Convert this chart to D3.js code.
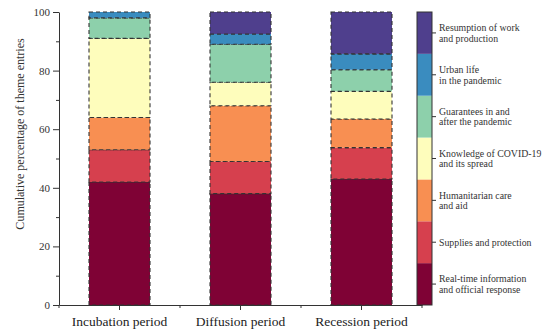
<!DOCTYPE html>
<html><head><meta charset="utf-8">
<script src="https://cdn.jsdelivr.net/npm/d3@7"></script>
<style>body{margin:0;background:#fff}svg{display:block}svg text{font-family:"Liberation Serif","Times New Roman",Times,"DejaVu Serif",serif}</style>
</head><body>
<svg id="c" width="550" height="336"></svg>
<script>
const periods = ["Incubation period", "Diffusion period", "Recession period"];
const themes = ["Real-time information and official response", "Supplies and protection", "Humanitarian care and aid",
  "Knowledge of COVID-19 and its spread", "Guarantees in and after the pandemic", "Urban life in the pandemic", "Resumption of work and production"];
const themeLines = [["Real-time information", "and official response"], ["Supplies and protection"], ["Humanitarian  care", "and aid"],
  ["Knowledge of COVID-19", "and its spread"], ["Guarantees in and", "after the pandemic"], ["Urban life", "in the  pandemic"], ["Resumption of work", "and production"]];
const colors = ["#7f0235", "#d6404e", "#f88f52", "#fefdbc", "#8dd0ab", "#3a8cbf", "#4f3f8d"];
// percentage of each theme per period (order = themes)
const incubation = [42, 11, 11, 27, 7, 2, 0];
const diffusion = [38, 11, 19, 8, 13, 3.5, 7.5];
const recession = [43, 10.7, 9.8, 9.4, 7.4, 5.4, 14.3];
const yTicks = [0, 20, 40, 60, 80, 100];

const seriesVals = [incubation, diffusion, recession];
const rows = periods.map((p, i) => { const o = {period: p}; themes.forEach((t, j) => o[t] = seriesVals[i][j]); return o; });
const stack = d3.stack().keys(themes)(rows);

const svg = d3.select("#c");
const x0 = 59, x1 = 422, yTop = 12, yBot = 305;
const x = d3.scaleBand().domain(periods).range([x0, x1]).paddingInner(0).paddingOuter(0);
const y = d3.scaleLinear().domain([0, 100]).range([yBot, yTop]);
const bw = 61;

const g = svg.append("g");
stack.forEach((layer, k) => {
  g.selectAll(null).data(layer).enter().append("rect")
    .attr("x", d => x(d.data.period) + x.bandwidth() / 2 - bw / 2)
    .attr("y", d => y(d[1]))
    .attr("width", bw)
    .attr("height", d => Math.max(0, y(d[0]) - y(d[1])))
    .attr("fill", colors[k])
    .attr("stroke", d => (d[1] - d[0]) > 0 ? "#333" : "none")
    .attr("stroke-width", 1.1)
    .attr("stroke-dasharray", "4,3");
});

// Y axis
const ya = svg.append("g").attr("transform", `translate(${x0},0)`)
  .call(d3.axisLeft(y).tickValues(yTicks).tickSize(6).tickSizeOuter(0).tickPadding(3));
ya.attr("font-family", null);
ya.selectAll("text").attr("font-size", 11).attr("fill", "#333");
ya.select(".domain").attr("stroke", "#333");
ya.selectAll("line").attr("stroke", "#333");
svg.append("g").attr("transform", `translate(${x0},0)`)
  .call(d3.axisLeft(y).tickValues([10, 30, 50, 70, 90]).tickSize(3).tickSizeOuter(0).tickFormat(""))
  .call(s => { s.select(".domain").remove(); s.selectAll("line").attr("stroke", "#333"); });

// X axis
const xa = svg.append("g").attr("transform", `translate(0,${yBot})`)
  .call(d3.axisBottom(x).tickSize(5).tickSizeOuter(0).tickPadding(6));
xa.attr("font-family", null);
xa.selectAll("text").attr("font-size", 13.5).attr("fill", "#222");
xa.select(".domain").attr("stroke", "#333");
xa.selectAll("line").attr("stroke", "#333");
const bounds = [x0, x(periods[1]), x(periods[2]), x1];
svg.append("g").selectAll("line").data(bounds).enter().append("line")
  .attr("x1", d => d).attr("x2", d => d).attr("y1", yBot).attr("y2", yBot + 3).attr("stroke", "#333");

// Y label
svg.append("text").attr("transform", "translate(24,134) rotate(-90)")
  .attr("text-anchor", "middle").attr("font-size", 12).attr("fill", "#333")
  .text("Cumulative percentage of theme entries");

// Colorbar legend
const lx = 417, lw = 15;
const ly = d3.scaleBand().domain(d3.range(themes.length).reverse()).range([yTop, yBot]);
const lg = svg.append("g");
lg.selectAll("rect").data(d3.range(themes.length)).enter().append("rect")
  .attr("x", lx).attr("y", d => ly(d)).attr("width", lw).attr("height", ly.bandwidth())
  .attr("fill", d => colors[d]);
lg.append("rect").attr("x", lx).attr("y", yTop).attr("width", lw).attr("height", yBot - yTop)
  .attr("fill", "none").attr("stroke", "#333").attr("stroke-width", 1);
d3.range(themes.length).forEach(i => {
  const cy = ly(i) + ly.bandwidth() / 2;
  lg.append("line").attr("x1", lx + lw).attr("x2", lx + lw + 4).attr("y1", cy).attr("y2", cy).attr("stroke", "#333");
  const lines = themeLines[i];
  const t = lg.append("text").attr("font-size", 9.8).attr("fill", "#333");
  lines.forEach((s, j) => {
    t.append("tspan").attr("x", 439).attr("y", cy + 3.5 + (j - (lines.length - 1) / 2) * 10.5).text(s);
  });
});
</script>
</body></html>
